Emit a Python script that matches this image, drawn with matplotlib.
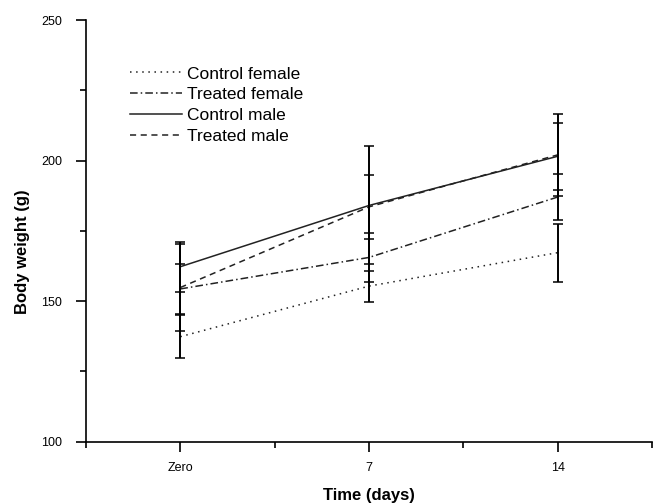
import numpy as np
import matplotlib.pyplot as plt
from matplotlib.ticker import MultipleLocator

plt.rcParams['font.family'] = ['Liberation Sans', 'DejaVu Sans']

days = ['Zero', '7', '14']

control_female = [137.3, 155.3, 167.2]
control_female_err = [7.7, 5.5, 10.3]
treated_female = [154.3, 165.5, 187.0]
treated_female_err = [9.0, 8.8, 8.2]
control_male = [162.2, 184.0, 201.5]
control_male_err = [8.9, 21.0, 12.0]
treated_male = [154.8, 183.5, 202.0]
treated_male_err = [15.5, 11.5, 14.5]

series = [
    ('Control female', control_female, control_female_err, (0, (1, 3))),
    ('Treated female', treated_female, treated_female_err, (0, (5, 2, 1, 2))),
    ('Control male', control_male, control_male_err, '-'),
    ('Treated male', treated_male, treated_male_err, (0, (4, 3))),
]

fig = plt.figure(figsize=(6.53, 5.03), dpi=100)
ax = fig.add_axes([86 / 653, 61.5 / 503, 566 / 653, 421.5 / 503])

x = np.arange(len(days))
for name, vals, err, ls in series:
    ax.plot(x, vals, color='#222222', linestyle=ls, linewidth=1.1, label=name)
    ax.errorbar(x, vals, yerr=err, fmt='none', ecolor='black',
                elinewidth=1.4, capsize=3.5, capthick=1.1)

ax.set_xlim(-0.5, 2.5)
ax.set_ylim(100, 250)
ax.set_xticks(x)
ax.set_xticklabels(days)
ax.set_xticks([-0.5, 0.5, 1.5, 2.5], minor=True)
ax.set_yticks([100, 150, 200, 250])
ax.yaxis.set_minor_locator(MultipleLocator(25))

for s in ['top', 'right']:
    ax.spines[s].set_visible(False)
for s in ['left', 'bottom']:
    ax.spines[s].set_linewidth(1.2)

ax.tick_params(which='major', length=7, width=1.2, labelsize=9, direction='out')
ax.tick_params(axis='y', which='major', pad=10)
ax.tick_params(axis='x', which='major', pad=8)
ax.tick_params(which='minor', length=4, width=1.2, direction='out')

ax.set_xlabel('Time (days)', fontsize=12, fontweight='bold', labelpad=10)
ax.set_ylabel('Body weight (g)', fontsize=12, fontweight='bold')
ax.yaxis.set_label_coords(-0.099, 0.45)

ax.legend(loc='upper left', bbox_to_anchor=(0.078, 0.89), frameon=False,
          fontsize=12.5, handlelength=3.0, handletextpad=0.25, labelspacing=0.32,
          borderaxespad=0, borderpad=0)

fig.savefig('out.png', dpi=100)
